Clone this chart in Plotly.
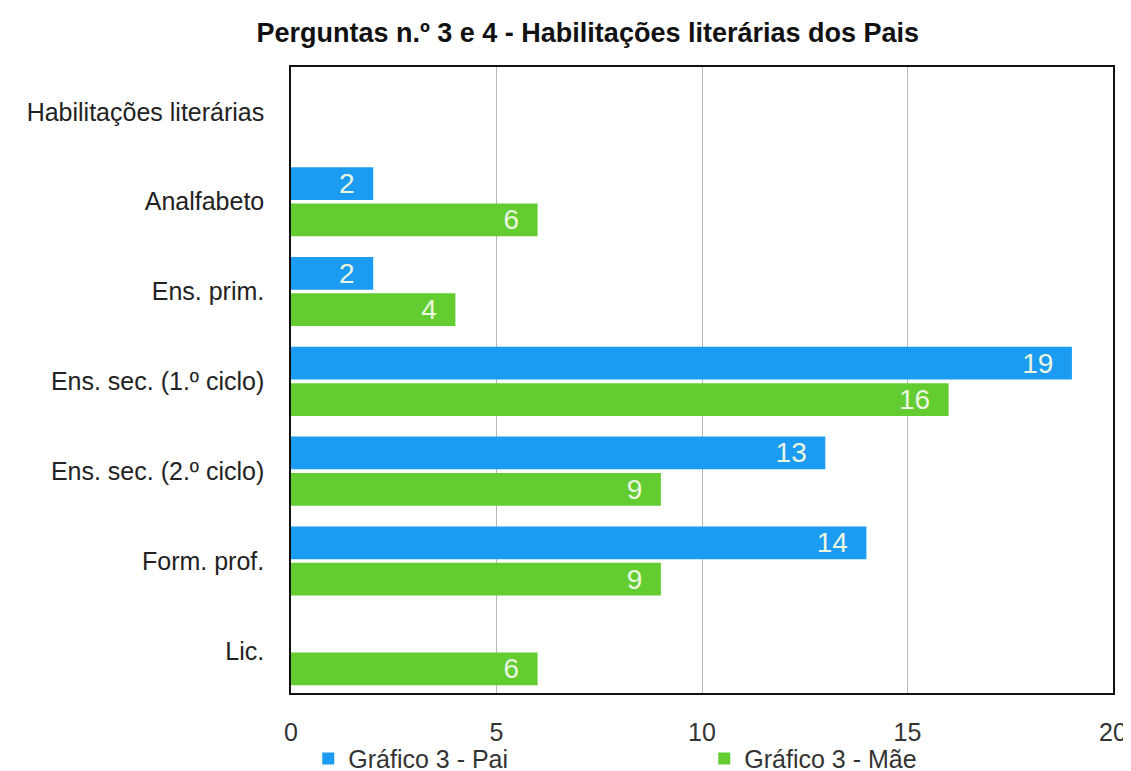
import plotly.graph_objects as go

categories = [
    "Habilitações literárias",
    "Analfabeto",
    "Ens. prim.",
    "Ens. sec. (1.º ciclo)",
    "Ens. sec. (2.º ciclo)",
    "Form. prof.",
    "Lic.",
]
pai = [None, 2, 2, 19, 13, 14, None]
mae = [None, 6, 4, 16, 9, 9, 6]

BLUE = "#1B9BF2"
GREEN = "#63CC30"
LABEL = "#EAF6E0"
FONT = "Liberation Sans, Arial"
PAD = "\u00a0\u00a0"


def labels(vals):
    return [f"{v}{PAD}" if v else "" for v in vals]


fig = go.Figure()
for name, vals, color in [("Gráfico 3 - Pai", pai, BLUE), ("Gráfico 3 - Mãe", mae, GREEN)]:
    fig.add_trace(go.Bar(
        y=categories, x=vals, orientation="h", name=name,
        marker=dict(color=color, line=dict(width=0)),
        text=labels(vals), textposition="inside", insidetextanchor="end",
        constraintext="none", cliponaxis=False,
        textangle=0, textfont=dict(color=LABEL, size=28, family=FONT),
    ))

fig.update_layout(
    width=1131, height=771,
    barmode="group", bargap=0.19, bargroupgap=0.1,
    plot_bgcolor="white", paper_bgcolor="white",
    font=dict(family=FONT, size=25, color="#222222"),
    title=dict(text="<b>Perguntas n.º 3 e 4 - Habilitações literárias dos Pais</b>",
               xref="paper", x=0.361, xanchor="center",
               yref="container", y=0.968, yanchor="middle",
               font=dict(size=27, color="#111111", family=FONT)),
    margin=dict(l=283, r=26, t=59, b=86, autoexpand=False),
    legend=dict(orientation="h", xref="paper", x=0.021, xanchor="left",
                y=-0.105, yanchor="middle", bgcolor="rgba(0,0,0,0)",
                entrywidth=351, entrywidthmode="pixels", itemwidth=30,
                font=dict(size=25, color="#333333"), traceorder="normal"),
    uniformtext=dict(mode=False),
)
fig.update_xaxes(
    range=[0, 20], tickvals=[0, 5, 10, 15, 20], showgrid=True,
    gridcolor="#B8B8B8", gridwidth=1, zeroline=False,
    showline=True, linecolor="#111111", linewidth=1.5, mirror=True,
    ticks="", ticklabelstandoff=16, tickfont=dict(size=25, color="#333333"),
)
fig.update_yaxes(
    categoryorder="array", categoryarray=categories,
    range=[6.47, -0.5], showgrid=False, zeroline=False,
    showline=True, linecolor="#111111", linewidth=1.5, mirror=True,
    ticks="", ticklabelstandoff=20, tickfont=dict(size=25, color="#222222"),
)

fig.write_html("out.html")
